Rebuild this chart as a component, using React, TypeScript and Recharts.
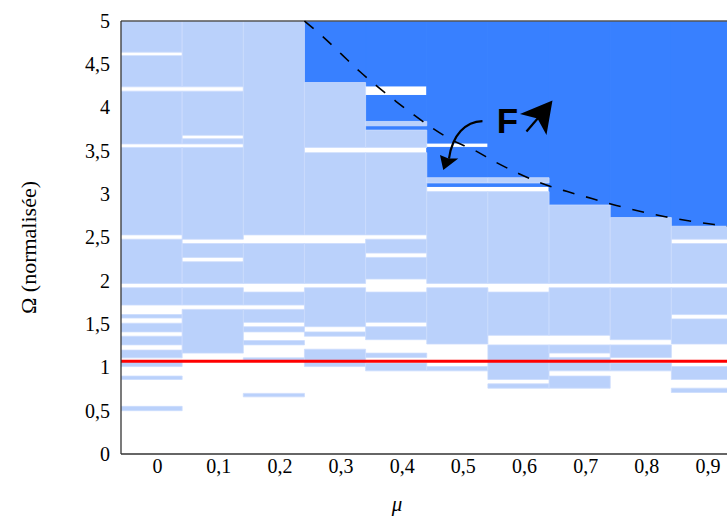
import React from 'react';
import {
  ComposedChart,
  XAxis,
  YAxis,
  Line,
  ReferenceArea,
  ReferenceLine,
  ReferenceDot,
  Label,
} from 'recharts';

// x categories (mu), one column each
const categories = ['0', '0,1', '0,2', '0,3', '0,4', '0,5', '0,6', '0,7', '0,8', '0,9'];

// light-blue bands per column: [Omega low, Omega high]
const light0 = [[4.64, 5], [4.24, 4.6], [3.58, 4.19], [2.53, 3.54], [1.97, 2.48], [1.72, 1.92], [1.57, 1.61], [1.41, 1.51], [1.26, 1.36], [1.11, 1.2], [1.01, 1.08], [0.86, 0.9], [0.5, 0.55]];
const light1 = [[4.24, 5], [3.68, 4.19], [3.58, 3.64], [2.48, 3.54], [2.27, 2.43], [1.97, 2.22], [1.72, 1.92], [1.165, 1.67]];
const light2 = [[2.53, 5], [1.97, 2.43], [1.72, 1.87], [1.52, 1.67], [1.41, 1.47], [1.26, 1.31], [1.075, 1.11], [0.66, 0.7]];
const light3 = [[3.54, 4.29], [2.53, 3.48], [1.97, 2.43], [1.47, 1.92], [1.36, 1.41], [1.01, 1.21]];
const light4 = [[3.79, 3.84], [3.54, 3.74], [2.53, 3.48], [2.32, 2.48], [2.02, 2.27], [1.52, 1.87], [1.32, 1.47], [1.115, 1.165], [0.96, 1.05]];
const light5 = [[3.13, 3.19], [1.97, 3.03], [1.27, 1.92], [0.96, 1.01]];
const light6 = [[3.13, 3.19], [1.97, 3.03], [1.37, 1.87], [0.86, 1.26], [0.76, 0.81]];
const light7 = [[1.97, 2.875], [1.37, 1.92], [1.165, 1.26], [0.96, 1.115], [0.76, 0.9]];
const light8 = [[1.97, 2.73], [1.32, 1.92], [1.115, 1.26], [0.96, 1.05]];
const light9 = [[2.48, 2.63], [1.97, 2.43], [1.61, 1.92], [1.27, 1.56], [0.86, 1.01], [0.71, 0.76]];

// dark-blue (region F) bands per column
const dark0: number[][] = [];
const dark1: number[][] = [];
const dark2: number[][] = [];
const dark3 = [[4.29, 5]];
const dark4 = [[4.25, 5], [3.84, 4.14], [3.74, 3.79]];
const dark5 = [[3.59, 5], [3.19, 3.54], [3.09, 3.13]];
const dark6 = [[3.19, 5], [3.09, 3.13]];
const dark7 = [[2.875, 5]];
const dark8 = [[2.73, 5]];
const dark9 = [[2.63, 5]];

const lightBands = [light0, light1, light2, light3, light4, light5, light6, light7, light8, light9];
const darkBands = [dark0, dark1, dark2, dark3, dark4, dark5, dark6, dark7, dark8, dark9];

// dashed boundary curve (x in column units, Omega)
const curveX = [2.5, 2.8, 3.1, 3.4, 3.7, 4.0, 4.3, 4.6, 4.9, 5.3, 5.6, 6.0, 6.4, 6.8, 7.2, 7.6, 8.0, 8.4, 8.8, 9.2, 9.41];
const curveOmega = [5.0, 4.82, 4.62, 4.42, 4.24, 4.07, 3.91, 3.76, 3.63, 3.5, 3.38, 3.24, 3.12, 3.03, 2.95, 2.87, 2.8, 2.74, 2.69, 2.65, 2.63];

const redLineOmega = 1.07;
const yTicks = [0, 0.5, 1, 1.5, 2, 2.5, 3, 3.5, 4, 4.5, 5];
const yTickLabels = ['0', '0,5', '1', '1,5', '2', '2,5', '3', '3,5', '4', '4,5', '5'];
const fLabelPos = { x: 5.82, y: 3.85 };

const curveData = curveX.map((x, i) => ({ x, omega: curveOmega[i] }));

const LIGHT = '#bad1fb';
const DARK = '#3880ff';
const FONT = '"Liberation Serif", "DejaVu Serif", serif';

const XTick = (props: any) => {
  const { x, y, payload } = props;
  return (
    <text x={x + 6} y={y + 11} textAnchor="middle" fontFamily={FONT} fontSize={20} fill="#000">
      {categories[payload.value]}
    </text>
  );
};

const YTick = (props: any) => {
  const { x, y, index } = props;
  return (
    <text x={x} y={y} dy="0.34em" textAnchor="end" fontFamily={FONT} fontSize={20} fill="#000">
      {yTickLabels[index]}
    </text>
  );
};

const FShape = (props: any) => {
  const { cx, cy } = props;
  const p = (dx: number, dy: number) => `${cx + dx},${cy + dy}`;
  return (
    <g>
      <text x={cx} y={cy} dy="0.36em" textAnchor="middle" fontFamily='"Liberation Sans", Arial, sans-serif' fontWeight="bold" fontSize={35} fill="#000">
        F
      </text>
      <line x1={cx + 19} y1={cy + 11} x2={cx + 31} y2={cy - 3} stroke="#000" strokeWidth={2.2} />
      <polygon points={`${p(45, -20)} ${p(12.5, -6.5)} ${p(30, -2)} ${p(39, 14.5)}`} fill="#000" />
      <path d={`M${p(-25, 0.5)} C${p(-42, 1)} ${p(-55, 14)} ${p(-58.5, 38)}`} fill="none" stroke="#000" strokeWidth={2.2} />
      <polygon points={`${p(-64.2, 49.5)} ${p(-67.5, 34.5)} ${p(-59, 38)} ${p(-49.2, 37.8)}`} fill="#000" />
    </g>
  );
};

export default function App() {
  return (
    <div style={{ position: 'absolute', left: 0, top: 0, width: 727, height: 520, background: '#fff' }}>
      <ComposedChart width={727} height={520} data={curveData} margin={{ top: 21, right: 0, bottom: 0, left: 0 }}>
        <XAxis
          type="number"
          dataKey="x"
          domain={[-0.5, 9.41]}
          ticks={[0, 1, 2, 3, 4, 5, 6, 7, 8, 9]}
          allowDataOverflow
          height={66}
          tickLine={false}
          axisLine={{ stroke: '#333', strokeWidth: 1.3 }}
          tick={<XTick />}
          interval={0}
        >
          <Label
            content={(p: any) => {
              const vb = p.viewBox;
              return (
                <text x={vb.x + 276} y={vb.y + 57} textAnchor="middle" fontFamily={FONT} fontStyle="italic" fontSize={21} fill="#000">
                  μ
                </text>
              );
            }}
          />
        </XAxis>
        <YAxis
          type="number"
          domain={[0, 5]}
          ticks={yTicks}
          width={121}
          tickLine={false}
          tickSize={6}
          tickMargin={5}
          axisLine={{ stroke: '#333', strokeWidth: 1.3 }}
          tick={<YTick />}
          interval={0}
        >
          <Label
            content={(p: any) => {
              const vb = p.viewBox;
              const cx = vb.x + 28;
              const cy = vb.y + vb.height / 2 + 10;
              return (
                <text x={cx} y={cy} transform={`rotate(-90 ${cx} ${cy})`} textAnchor="middle" dominantBaseline="central" fontFamily={FONT} fontSize={22} fill="#000">
                  Ω (normalisée)
                </text>
              );
            }}
          />
        </YAxis>

        {darkBands.map((bands, i) =>
          bands.map((b, j) => (
            <ReferenceArea
              key={`d-${i}-${j}`}
              x1={i - 0.5}
              x2={i + 0.5}
              y1={b[0]}
              y2={b[1]}
              fill={DARK}
              fillOpacity={1}
              stroke={DARK}
              strokeWidth={1}
              ifOverflow="hidden"
            />
          ))
        )}
        {lightBands.map((bands, i) =>
          bands.map((b, j) => (
            <ReferenceArea
              key={`l-${i}-${j}`}
              x1={i - 0.5}
              x2={i + 0.5}
              y1={b[0]}
              y2={b[1]}
              fill={LIGHT}
              fillOpacity={1}
              stroke="#cbdcfc"
              strokeWidth={0.8}
              ifOverflow="hidden"
            />
          ))
        )}

        <ReferenceLine y={redLineOmega} stroke="#ff0000" strokeWidth={3} ifOverflow="visible" />
        <ReferenceLine y={5} stroke="#555" strokeWidth={1.3} ifOverflow="visible" />

        <Line
          type="monotone"
          dataKey="omega"
          stroke="#000"
          strokeWidth={1.6}
          strokeDasharray="12 12"
          dot={false}
          activeDot={false}
          isAnimationActive={false}
        />

        <ReferenceDot x={fLabelPos.x} y={fLabelPos.y} ifOverflow="visible" shape={<FShape />} />
      </ComposedChart>
    </div>
  );
}
